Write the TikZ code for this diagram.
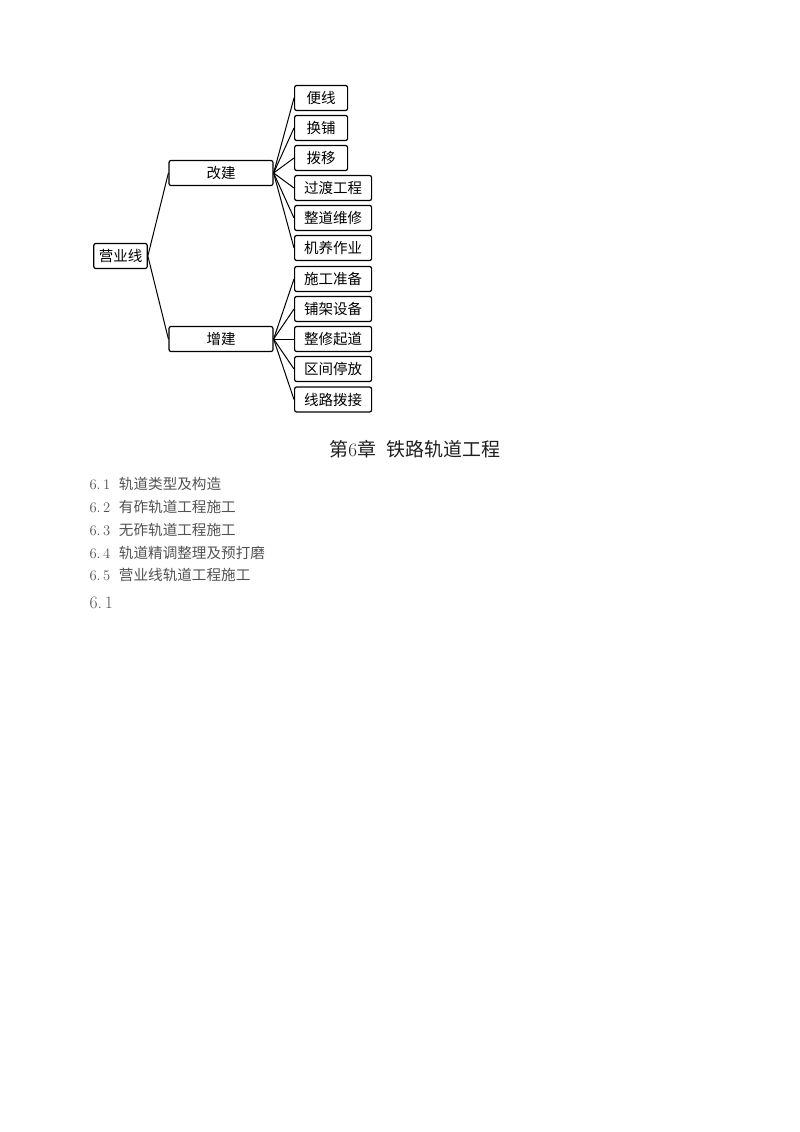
\documentclass[tikz,border=0pt]{standalone}
\usepackage{fontspec}
\newfontfamily\cjk{Noto Sans CJK SC}
\usetikzlibrary{positioning}
\tikzset{
box/.style={draw, rounded corners=2pt, line width=1.2pt, minimum height=25pt,
	inner xsep=9.5pt, inner ysep=0pt, font={\fontsize{14.5}{16}\selectfont\cjk}},
leaf/.style={box, anchor=west, minimum width=53pt},
branch/.style={box, minimum width=104pt},
item/.style={anchor=west, inner sep=0pt, text=black!68, font=\fontsize{14.6}{16}\selectfont}
}

\begin{document}
\begin{tikzpicture}[x=1pt, y=-1pt, line width=1pt]
	\useasboundingbox (0,0) rectangle (800,1132);
	% tree
	\node[box, inner xsep=5pt] (root) at (120.5,256) {营业线};
	\node[branch] (gaijian) at (221,173) {改建};
	\node[branch] (zengjian) at (221,339) {增建};
	\node[leaf] (g1) at (294,98) {便线};
	\node[leaf] (g2) at (294,128) {换铺};
	\node[leaf] (g3) at (294,158) {拨移};
	\node[leaf] (g4) at (294,188) {过渡工程};
	\node[leaf] (g5) at (294,218) {整道维修};
	\node[leaf] (g6) at (294,248) {机养作业};
	\node[leaf] (z1) at (294,279) {施工准备};
	\node[leaf] (z2) at (294,309) {铺架设备};
	\node[leaf] (z3) at (294,339) {整修起道};
	\node[leaf] (z4) at (294,369) {区间停放};
	\node[leaf] (z5) at (294,399.5) {线路拨接};
	\draw (root.east) -- (gaijian.west);
	\draw (root.east) -- (zengjian.west);
	\foreach \n in {g1,g2,g3,g4,g5,g6}
		\draw (gaijian.east) -- (\n.west);
	\foreach \n in {z1,z2,z3,z4,z5}
		\draw (zengjian.east) -- (\n.west);
	% chapter heading and list
	\node[text=black!88, font=\fontsize{19}{22}\selectfont] (title) at (415,449)
		{{\cjk 第}6{\cjk 章}\hspace{0.55em}{\cjk 铁路轨道工程}};
	\node[item] (s1) at (89,484) {6.\,1\hspace{0.6em}{\cjk 轨道类型及构造}};
	\node[item] (s2) at (89,507) {6.\,2\hspace{0.6em}{\cjk 有砟轨道工程施工}};
	\node[item] (s3) at (89,530) {6.\,3\hspace{0.6em}{\cjk 无砟轨道工程施工}};
	\node[item] (s4) at (89,552.5) {6.\,4\hspace{0.6em}{\cjk 轨道精调整理及预打磨}};
	\node[item] (s5) at (89,575) {6.\,5\hspace{0.6em}{\cjk 营业线轨道工程施工}};
	\node[item, font=\fontsize{17.5}{20}\selectfont] (s6) at (89,603) {6.\,1};
\end{tikzpicture}
\end{document}
